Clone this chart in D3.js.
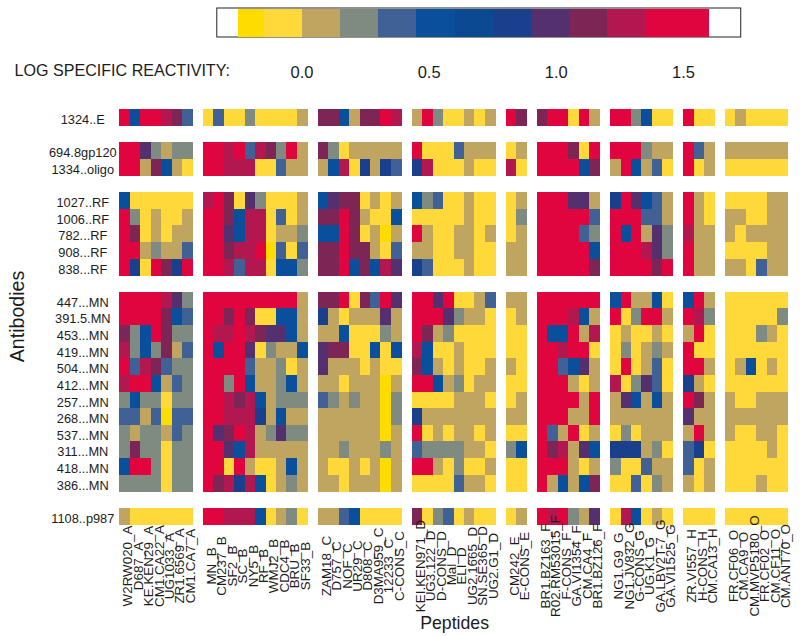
<!DOCTYPE html>
<html>
<head>
<meta charset="utf-8">
<script src="https://cdn.jsdelivr.net/npm/d3@7"></script>
<style>
html,body{margin:0;padding:0;background:#fff;}
svg{display:block;}
text{font-family:"Liberation Sans",Arial,sans-serif;fill:#1c1c1c;}
</style>
</head>
<body>
<svg id="c" width="800" height="636"></svg>
<script>
// Antibodies (rows), "gap" entries are blank separator rows
const rowLayout = ["1324..E","gap1","694.8gp120","1334..oligo","gap2",
  "1027..RF","1006..RF","782...RF","908...RF","838...RF","gap3",
  "447...MN","391.5.MN","453...MN","419...MN","504...MN","412...MN","257...MN","268...MN","537...MN","311...MN","418...MN","386...MN","gap4",
  "1108..p987"];

// Peptides per clade
const pepA = ["W2RW020_A","D687_A","KE.KEN29_A","CM1.CA22_A","UG1033_A","ZR1.6569_A","CM1.CA7_A"];
const pepB = ["MN_B","CM237_B","SF2_B","SC_B","NY5_B","RF_B","WMJ2_B","CDC4_B","BRU_B","SF33_B"];
const pepC = ["ZAM18_C","D757_C","NOF_C","UR29_C","D808_C","D3MA959_C","12233_C","C-CONS_C"];
const pepD = ["KEI.KEN971_D","UG3.122_D","D-CONS_D","Mal_D","ELI_D","UG2.1665_D","SN.SE365_D","UG2.G1_D"];
const pepE = ["CM242_E","E-CONS_E"];
const pepF = ["BR1.BZ163_F","R02.RM53015_F","F-CONS_F","GA.VI1354_F","CM.CA4_F","BR1.BZ126_F"];
const pepG = ["NG1.G9_G","NG1.JV832_G","G-CONS_G","UG.K1_G","GA.LBV2T-7_G","GA.VI1525_G"];
const pepH = ["ZR.VI557_H","H-CONS_H","CM.CA13_H"];
const pepO = ["FR.CF06_O","CM.CA9_O","CM.MVP5180_O","FR.CF02_O","CM.CF11_O","CM.ANT70_O"];

// Reactivity levels, one string per antibody (top to bottom), one letter per peptide
const valA = ["RBRRCMS","RRPGTGG","RRTMBTY","BYYYYYY","RGYTYYT","RMYTYTT","RRTGTTS","RNYRMNR",
  "RRRRCPG","RRRRMBS","MGBRMGG","CGBGMTS","RSCMSGG","CRRBTSG","GBGGYGG","SSTSDSS","GTGGTSG","GMGGYGG","BRRGYGG","GGGGYGG","TYYYYYY"];
const valB = ["YSYYGYYYYT","RRCRSCMGRT","RRCCCYYSTT","CRMYPGYYYT","RRMBCCYSYT","RRPBCCYTTG","RRMCCRDSYS","RRCSCCYBBG",
  "RRRRRRRRRT","RRMRMYYBBT","RCCRCMPPBT","RBRRPYGTTB","RRRRSTTGYT","RRGRBTTGBT","RRCMCBTGGG","RRCCCNTBTT","RPMRCTGPGG","RRPBCTTTTT","RRYRTYYTBT","RMCNCBYTGT","RRCCCBYTGY"];
const valC = ["MMBTMMRC","MGYTTTTT","TBCYNTNS","BPMMYTYT","MMRMTYYB","BBRMYTDT","MMRMMTYS","MMRBMBCP",
  "MMRYMSRP","NTYTTTPT","TTBYYYGT","PMMYYBYB","PTTTYTYY","TTYTTTDT","SGTGTTDG","TTTTTTDG","TTTTTTDT","TTGTTTGT","TYYTYTDT","TTYTTTDT","TTSBYYYY"];
const valD = ["TRGYYTYT","RYYYSTTT","NCYYYTYY","BGSYYTYY","YYYYYTYY","RTYYTTYT","TTYYTTYY","NSYYYTYY",
  "RRPRYYTS","RRRPGTTY","RMTGYYYY","CBYYTYYY","MBTYTYYT","RRBTGYTT","YYYYTTTY","NTTTTTTT","RYTYTTYT","SGGGGTTY","RRTYGYYT","YYYYSTTY","MYGSYTYY"];
const valE = ["RM","YT","CY","YT","YG","YT","TT","TT",
  "TT","YT","YY","YY","TY","YY","YT","TT","YY","GB","YY","YY","YT"];
const valF = ["MRRYRT","RRRMYR","RRRRBM","RRRPPT","RRRRRS","RRRRSG","RRRRRB","RRRRRM",
  "RRRRRR","RRRCBT","RBBRTC","RRCRRY","RRSBPT","RRRTYT","RRRRTR","RRRTTR","RSTRYT","RMCTPB","RRRTYT","RTBTBM","RCRGTP"];
const valG = ["RRGBYY","RRRGTT","TRBTSY","NRPBST","RRRSST","RBRTPG","RRRCPG","RRRRMR",
  "BRTTBY","RYGRRT","YTYYTY","YGYTGT","YRYTSY","CYGPSY","TPBTBT","TTTTTT","YGYTTT","NNNTGY","GYYSTT","YYSYGT","YCBYTY"];
const valH = ["RYY","RST","RYT","RTY","RTY","CTT","RTT","RTT",
  "BRT","RCG","TRY","RYY","RRT","NTY","RMT","PTT","TRT","SNY","SYT","TYT","YYY"];
const valO = ["YTYYYY","TTTTTT","YYYYYY","YYYYTT","TTYYTT","TYTTTT","YYYYTT","TTYSTT",
  "YYYYYY","YYYYYG","YYYGTY","YYYYYY","YTBYTY","YYYYYY","TYYTTT","TTTTTT","TYYTTY","YYYYTY","YYYYYY","YYYTYY","YYYYYY"];

// Colour key: bin edges on the log scale and their levels
const keyEdges = [-0.25,-0.15,0,0.15,0.30,0.45,0.60,0.75,0.90,1.05,1.20,1.35,1.50,1.60];
const keyLevels = ["D","Y","T","G","S","B","E","N","P","M","C","R","R"];
const keyTicks = [0,0.5,1,1.5];
const levels = ["D","Y","T","G","S","B","E","N","P","M","C","R"];
const levelColors = ["#ffdc00","#ffd83a","#bfa55f","#7f8a80","#3f6196","#0a4f9c","#0b4a92","#1a408d","#55306f","#7d2656","#b3174f","#e0053f"];

const clades = [[pepA,valA],[pepB,valB],[pepC,valC],[pepD,valD],[pepE,valE],[pepF,valF],[pepG,valG],[pepH,valH],[pepO,valO]];

const svg = d3.select("#c");
const color = d3.scaleOrdinal(levels, levelColors);

// Column layout: one blank band between clades
const colLayout = [];
clades.forEach(([p], i) => { if (i) colLayout.push("gap" + i); colLayout.push(...p); });
const x = d3.scaleBand(colLayout, [119.3, 787.7]);
const y = d3.scaleBand(rowLayout, [109, 524.6]);
const rows = rowLayout.filter(r => !r.startsWith("gap"));
const cols = colLayout.filter(c => !c.startsWith("gap"));

const cells = [];
clades.forEach(([peps, vals]) => {
  peps.forEach((p, j) => rows.forEach((r, i) => cells.push({p, r, v: vals[i][j]})));
});

svg.append("g").attr("shape-rendering", "crispEdges").selectAll("rect").data(cells).join("rect")
  .attr("x", d => x(d.p)).attr("y", d => y(d.r))
  .attr("width", x.bandwidth() + 0.4).attr("height", y.bandwidth() + 0.4)
  .attr("fill", d => color(d.v));

// Row labels (centred in their column, just above each row's middle line)
const yAxis = svg.append("g").attr("transform", "translate(82.8,2.2)")
  .call(d3.axisLeft(y).tickValues(rows).tickSize(0).tickPadding(0));
yAxis.select(".domain").remove();
yAxis.selectAll("text").attr("font-size", 12.8).attr("font-family", null)
  .attr("text-anchor", "middle").attr("x", 0).attr("dy", "0.35em");

// Column labels
const xAxis = svg.append("g").attr("transform", "translate(3,566)")
  .call(d3.axisBottom(x).tickValues(cols).tickSize(0).tickPadding(0));
xAxis.select(".domain").remove();
xAxis.selectAll("text")
  .attr("font-size", 13.4).attr("font-family", null)
  .attr("text-anchor", "middle").attr("dy", "0.35em").attr("y", 0)
  .attr("transform", "rotate(-90)");

// Axis titles
svg.append("text").attr("transform", "translate(24,316.5) rotate(-90)")
  .attr("text-anchor", "middle").attr("font-size", 19.6).text("Antibodies");
svg.append("text").attr("x", 454.6).attr("y", 629)
  .attr("text-anchor", "middle").attr("font-size", 17.7).text("Peptides");

// Colour key
const kx = d3.scaleLinear([0, 1.5], [302, 683.5]);
svg.append("rect").attr("x", kx(-0.335)).attr("y", 8).attr("width", kx(1.725) - kx(-0.335)).attr("height", 29)
  .attr("fill", "#fff").attr("stroke", "#222").attr("stroke-width", 1);
svg.append("g").attr("shape-rendering", "crispEdges").selectAll("rect").data(keyLevels).join("rect")
  .attr("x", (d, i) => kx(keyEdges[i])).attr("y", 9)
  .attr("width", (d, i) => kx(keyEdges[i + 1]) - kx(keyEdges[i])).attr("height", 27.5)
  .attr("fill", d => color(d));

svg.append("text").attr("x", 14.5).attr("y", 75.7).attr("font-size", 16.1).text("LOG SPECIFIC REACTIVITY:");
svg.append("g").selectAll("text").data(keyTicks).join("text")
  .attr("x", d => kx(d)).attr("y", 78).attr("text-anchor", "middle").attr("font-size", 16.5)
  .text(d3.format(".1f"));
</script>
</body>
</html>
